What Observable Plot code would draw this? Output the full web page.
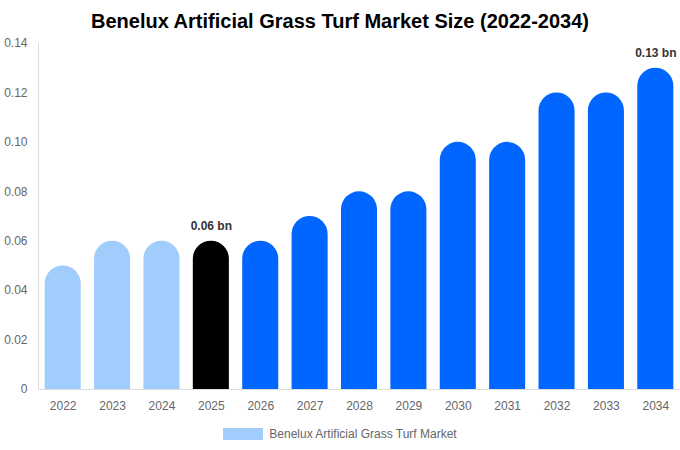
<!DOCTYPE html>
<html><head><meta charset="utf-8">
<script src="https://cdn.jsdelivr.net/npm/d3@7"></script>
<script src="https://cdn.jsdelivr.net/npm/@observablehq/plot@0.6"></script>
<style>
body{margin:0;background:#fff;font-family:"Liberation Sans",Arial,sans-serif;}
#title{height:36px;line-height:42px;text-align:center;font-weight:bold;font-size:20px;color:#000;}
#legend{display:flex;justify-content:center;align-items:center;margin-top:8px;font-size:12px;color:#666;}
#legend span.sw{display:inline-block;width:40px;height:12px;background:#a0cdfc;margin-right:6px;}
</style></head><body>
<div id="title">Benelux Artificial Grass Turf Market Size (2022-2034)</div>
<div id="chart"></div>
<div id="legend"><span class="sw"></span><span>Benelux Artificial Grass Turf Market</span></div>
<script>
const years = ["2022","2023","2024","2025","2026","2027","2028","2029","2030","2031","2032","2033","2034"];
const values = [0.05,0.06,0.06,0.06,0.06,0.07,0.08,0.08,0.10,0.10,0.12,0.12,0.13];
const colors = ["#a0cdfc","#a0cdfc","#a0cdfc","#000000","#0066ff","#0066ff","#0066ff","#0066ff","#0066ff","#0066ff","#0066ff","#0066ff","#0066ff"];
const labeled = ["2025","2034"];
const yTicks = [0,0.02,0.04,0.06,0.08,0.10,0.12,0.14];
const data = years.map((y,i)=>({year:y,value:values[i],color:colors[i]}));
const chart = Plot.plot({
  width:680, height:383,
  marginTop:7, marginLeft:38, marginRight:0, marginBottom:30,
  style:{fontFamily:"Liberation Sans, Arial, sans-serif", fontSize:"12px", color:"#666"},
  x:{domain:years, paddingInner:0.27, paddingOuter:0.135, round:false, label:null, tickSize:0, tickPadding:12},
  y:{domain:[0,0.14], ticks:yTicks, tickFormat:d=>d===0?"0":d.toFixed(2), label:null, tickSize:0, tickPadding:11},
  marks:[
    // rounded bars; their bottom rounding lies below zero and is clipped away
    Plot.barY(data,{x:"year", y1:()=>-0.02, y2:"value", fill:"color", rx:18, clip:true}),
    Plot.ruleY([0],{stroke:"#ddd"}),
    Plot.text(data.filter(d=>labeled.includes(d.year)),{x:"year", y:"value", text:d=>d.value.toFixed(2)+" bn", dy:-15, fontWeight:"bold", fill:"#333", fontSize:12})
  ]
});
// left axis line
d3.select(chart).append("line")
  .attr("x1",38.5).attr("x2",38.5).attr("y1",7).attr("y2",353)
  .attr("stroke","#ddd");
document.getElementById("chart").appendChild(chart);
</script>
</body></html>
